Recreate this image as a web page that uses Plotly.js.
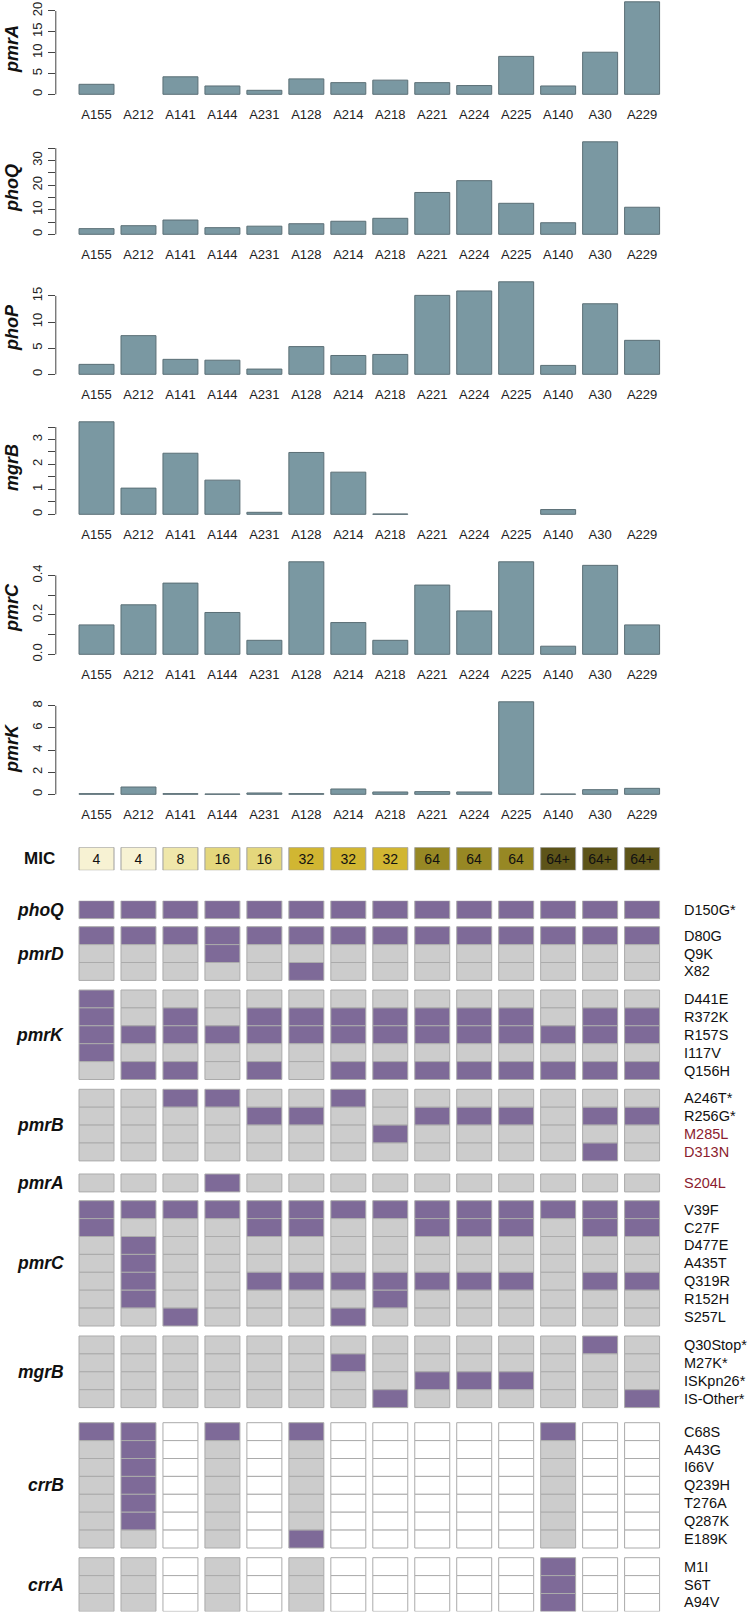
<!DOCTYPE html>
<html><head><meta charset="utf-8">
<script src="https://cdn.plot.ly/plotly-3.0.1.min.js"></script>
<style>html,body{margin:0;padding:0;background:#fff}#chart{width:750px;height:1613px}</style>
</head><body><div id="chart"></div>
<script>
// ---------------- data ----------------
const samples = ["A155","A212","A141","A144","A231","A128","A214","A218","A221","A224","A225","A140","A30","A229"];

const pmrA = [2.4, null, 4.2, 2.0, 0.96, 3.7, 2.8, 3.4, 2.8, 2.1, 9.1, 2.0, 10.1, 22.2];
const phoQ = [2.3, 3.5, 5.8, 2.7, 3.3, 4.3, 5.3, 6.5, 17.0, 21.8, 12.6, 4.7, 37.6, 11.0];
const phoP = [1.9, 7.4, 2.86, 2.7, 1.0, 5.3, 3.6, 3.8, 15.1, 15.95, 17.7, 1.7, 13.5, 6.5];
const mgrB = [3.71, 1.05, 2.45, 1.37, 0.08, 2.48, 1.69, 0.013, null, null, null, 0.19, null, null];
const pmrC = [0.149, 0.251, 0.361, 0.212, 0.071, 0.469, 0.161, 0.071, 0.351, 0.220, 0.469, 0.041, 0.451, 0.149];
const pmrK = [0.06, 0.66, 0.06, 0.03, 0.12, 0.06, 0.48, 0.21, 0.24, 0.21, 8.37, 0.03, 0.42, 0.54];

const panelGenes = ["pmrA","phoQ","phoP","mgrB","pmrC","pmrK"];
const panelValues = [pmrA, phoQ, phoP, mgrB, pmrC, pmrK];
const panelTickVals = [
  [0,5,10,15,20],
  [0,5,10,15,20,25,30,35],
  [0,5,10,15],
  [0,0.5,1,1.5,2,2.5,3,3.5],
  [0,0.1,0.2,0.3,0.4],
  [0,2,4,6,8]
];
const panelTickText = [
  ["0","5","10","15","20"],
  ["0","","10","","20","","30",""],
  ["0","5","10","15"],
  ["0","","1","","2","","3",""],
  ["0.0","","0.2","","0.4"],
  ["0","2","4","6","8"]
];

const mic = ["4","4","8","16","16","32","32","32","64","64","64","64+","64+","64+"];

const mutGenes = ["phoQ","pmrD","pmrK","pmrB","pmrA","pmrC","mgrB","crrB","crrA"];
const mutNames = [
  ["D150G*"],
  ["D80G","Q9K","X82"],
  ["D441E","R372K","R157S","I117V","Q156H"],
  ["A246T*","R256G*","M285L","D313N"],
  ["S204L"],
  ["V39F","C27F","D477E","A435T","Q319R","R152H","S257L"],
  ["Q30Stop*","M27K*","ISKpn26*","IS-Other*"],
  ["C68S","A43G","I66V","Q239H","T276A","Q287K","E189K"],
  ["M1I","S6T","A94V"]
];
// M = mutation present, W = wild type, N = gene absent
const mutStatus = [
  ["MMMMMMMMMMMMMM"],
  ["MMMMMMMMMMMMMM","WWWMWWWWWWWWWW","WWWWWMWWWWWWWW"],
  ["MWWWWWWWWWWWWW","MWMWMMMMMMMWMM","MMMMMMMMMMMMMM","MWWWWWWWWWWWWW","WMMWMWMMMMMMMM"],
  ["WWMMWWMWWWWWWW","WWWWMMWWMMMWMM","WWWWWWWMWWWWWW","WWWWWWWWWWWWMW"],
  ["WWWMWWWWWWWWWW"],
  ["MMMMMMMMMMMMMM","MWWWMMWWMMMWMM","WMWWWWWWWWWWWW","WMWWWWWWWWWWWW","WMWWMMMMMMMWMM","WMWWWWWMWWWWWW","WWMWWWMWWWWWWW"],
  ["WWWWWWWWWWWWMW","WWWWWWMWWWWWWW","WWWWWWWWMMMWWW","WWWWWWWMWWWWWM"],
  ["MMNMNMNNNNNMNN","WMNWNWNNNNNWNN","WMNWNWNNNNNWNN","WMNWNWNNNNNWNN","WMNWNWNNNNNWNN","WMNWNWNNNNNWNN","WWNWNMNNNNNWNN"],
  ["WWNWNWNNNNNMNN","WWNWNWNNNNNMNN","WWNWNWNNNNNMNN"]
];
const novelMutations = ["M285L","D313N","S204L"];

// ---------------- style / layout ----------------
const W = 750, H = 1613;
const FONT = "Liberation Sans, Arial, Helvetica, sans-serif";
const BAR_FILL = "#7a98a2", BAR_LINE = "#5b6f76";
const MUT_COL = {M: "#7e6a98", W: "#cccccc", N: "#ffffff"};
const CELL_LINE = "#ababab";
const MIC_FILL = {"4":"#f7f2d3","8":"#efe7aa","16":"#e4d77c","32":"#d1b632","64":"#978824","64+":"#5d5419"};
const RED = "#8b1c2e";

const plotLeft = 55.8, plotRight = 682.8;
const xDom = [plotLeft / W, plotRight / W];
const xRange = [-0.97, 13.97];
const py = p => 1 - p / H;

const traces = [];
const layout = {
  width: W, height: H, margin: {l:0, r:0, t:0, b:0},
  paper_bgcolor: "#fff", plot_bgcolor: "rgba(0,0,0,0)",
  showlegend: false, barmode: "overlay", bargap: 1/6,
  font: {family: FONT, color: "#111"},
  annotations: [], shapes: []
};

function xAxis(anchor, showLabels) {
  return {
    domain: xDom, anchor: anchor, type: "category",
    categoryorder: "array", categoryarray: samples, range: xRange,
    showline: false, showgrid: false, zeroline: false,
    ticks: "", showticklabels: showLabels, ticklabelstandoff: 7,
    tickfont: {family: FONT, size: 13, color: "#222"}, fixedrange: true
  };
}

// bar panels
panelValues.forEach((vals, i) => {
  const k = i + 1;
  const xa = "x" + k, ya = "y" + k;
  const M = Math.max(...vals.filter(v => v !== null));
  const zeroPx = 94.3 + 140 * i;
  const bottomPx = zeroPx + 3.7;
  const heightPx = 99.9;
  let topPx = bottomPx - heightPx;
  let lo = -0.04 * M, hi = 1.04 * M;
  if (topPx < 0) { hi = lo + (bottomPx / heightPx) * 1.08 * M; topPx = 0; }
  traces.push({
    type: "bar", x: samples, y: vals, xaxis: xa, yaxis: ya,
    marker: {color: BAR_FILL, line: {color: BAR_LINE, width: 1}},
    hoverinfo: "x+y"
  });
  layout["xaxis" + (k === 1 ? "" : k)] = xAxis(ya, true);
  layout["yaxis" + (k === 1 ? "" : k)] = {
    domain: [py(bottomPx), py(topPx)], anchor: xa, range: [lo, hi],
    showgrid: false, zeroline: false, showline: false,
    ticks: "outside", ticklen: 7, tickwidth: 1, tickcolor: "#444",
    tickvals: panelTickVals[i], ticktext: panelTickText[i],
    tickangle: -90, ticklabelstandoff: 1,
    tickfont: {family: FONT, size: 13, color: "#222"}, fixedrange: true
  };
  const tv = panelTickVals[i];
  layout.shapes.push({type: "line", xref: "paper", yref: ya,
    x0: xDom[0], x1: xDom[0], y0: tv[0], y1: tv[tv.length - 1],
    line: {color: "#444", width: 1}});
  layout.annotations.push({
    xref: "paper", yref: "paper", x: 12 / W, y: py((topPx + bottomPx) / 2),
    text: "<b><i>" + panelGenes[i] + "</i></b>", textangle: -90, showarrow: false,
    font: {family: FONT, size: 18, color: "#111"}, xanchor: "center", yanchor: "middle"
  });
});

// MIC row
const micTop = 847.3, micBot = 870.3;
traces.push({
  type: "bar", x: samples, y: mic.map(() => 1), base: 0, xaxis: "x7", yaxis: "y7",
  marker: {color: mic.map(m => MIC_FILL[m]), line: {color: "#9e9e9e", width: 1}},
  text: mic, texttemplate: "%{text}", textposition: "inside", insidetextanchor: "middle",
  constraintext: "none", textangle: 0,
  textfont: {family: FONT, size: 14, color: "#111"}, hoverinfo: "x+text"
});
layout.xaxis7 = xAxis("y7", false);
layout.yaxis7 = {domain: [py(micBot), py(micTop)], anchor: "x7", range: [0, 1],
  showgrid: false, zeroline: false, showline: false, showticklabels: false, ticks: "", fixedrange: true};
layout.annotations.push({xref: "paper", yref: "paper", x: 39.5 / W, y: py((micTop + micBot) / 2),
  text: "<b>MIC</b>", showarrow: false, xanchor: "center", yanchor: "middle",
  font: {family: FONT, size: 17, color: "#111"}});

// mutation grid
const gridTop = 900.7, rowH = 17.9;
const gapAfter = [8.1, 9.6, 9.8, 13.1, 8.8, 10, 15.1, 9.7, 0];
let cursor = 0;
mutGenes.forEach((gene, b) => {
  const rows = mutStatus[b];
  const blockStart = cursor;
  rows.forEach((row, r) => {
    const base = cursor;
    const cells = row.split("");
    traces.push({
      type: "bar", x: samples, y: cells.map(() => rowH), base: base,
      xaxis: "x8", yaxis: "y8",
      marker: {color: cells.map(c => MUT_COL[c]), line: {color: CELL_LINE, width: 1}},
      hoverinfo: "x+name", name: gene + " " + mutNames[b][r]
    });
    const label = mutNames[b][r];
    layout.annotations.push({xref: "paper", yref: "y8", x: 682 / W, y: base + rowH / 2,
      text: label, showarrow: false, xanchor: "left", yanchor: "middle",
      font: {family: FONT, size: 14.5, color: novelMutations.includes(label) ? RED : "#111"}});
    cursor += rowH;
  });
  layout.annotations.push({xref: "paper", yref: "y8", x: 66 / W, y: (blockStart + cursor) / 2,
    text: "<b><i>" + gene + "</i></b>", showarrow: false, xanchor: "right", yanchor: "middle",
    font: {family: FONT, size: 17.5, color: "#111"}});
  cursor += gapAfter[b];
});
const gridTotal = cursor;
layout.xaxis8 = xAxis("y8", false);
layout.yaxis8 = {domain: [py(gridTop + gridTotal), py(gridTop)], anchor: "x8",
  range: [gridTotal, 0], showgrid: false, zeroline: false, showline: false,
  showticklabels: false, ticks: "", fixedrange: true};

Plotly.newPlot("chart", traces, layout, {staticPlot: true, displayModeBar: false});
</script>
</body></html>
